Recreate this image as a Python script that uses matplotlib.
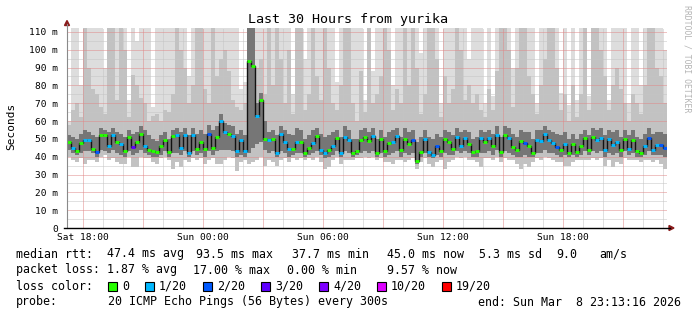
import numpy as np
import matplotlib
matplotlib.use("Agg")
import matplotlib.pyplot as plt
from matplotlib.patches import Rectangle, Polygon
from matplotlib.lines import Line2D

plt.rcParams['font.family'] = ['DejaVu Sans Mono']

# ---------------- data (150 steps of 12 minutes, last 30 hours) ----------------
med = [48, 45, 43, 47.5, 49.5, 49.5, 44.5, 42.5, 52, 52,
       46, 52, 48, 47, 43, 51, 45.5, 48, 53, 46,
       44, 43, 42.5, 46, 49.5,
       42.5, 51.5, 52, 45, 52, 42, 52, 44.5, 48.5, 44.5,
       53, 45, 51, 60, 54, 53, 51.5, 43, 49.5, 43,
       93.5, 91, 63, 72, 50,
       49.5, 50, 42, 52.5, 48, 44.5, 44.5, 48.5, 48.5, 42,
       45, 47.5, 51.5, 44, 42, 44, 46, 50.5, 42, 51,
       49.5, 42, 43, 49.5, 51,
       49, 51.5, 42, 50, 43, 47.5, 48.5, 51.5, 43.5, 50,
       47, 49.5, 37.7, 42.5, 50, 42.5, 41, 46, 43, 50,
       48, 44.5, 51, 46, 50.5,
       47, 42.5, 43, 50.5, 48.5, 50.5, 46, 52, 42.5, 52,
       50.5, 45.5, 43.5, 49, 47.5, 46, 42, 49.5, 49, 52.5,
       49.5, 47.5, 45.3, 43.5, 47,
       42, 47, 42.5, 46, 50.5, 44, 51, 49.5, 50.5, 44,
       50, 46.5, 48.5, 43.5, 50, 44.5, 49.5, 43, 42, 46,
       50.5, 44, 46.5, 46.5, 45]

loss = [0, 1, 0, 0, 1, 1, 0, 2, 0, 0,
        1, 1, 0, 1, 0, 0, 3, 0, 0, 1,
        0, 0, 0, 0, 0,
        0, 0, 1, 1, 1, 1, 1, 0, 0, 0,
        2, 0, 0, 1, 1, 0, 1, 1, 1, 1,
        0, 0, 1, 0, 0,
        1, 0, 1, 1, 1, 1, 0, 1, 0, 0,
        0, 1, 0, 1, 1, 0, 1, 0, 1, 1,
        1, 0, 0, 0, 0,
        0, 1, 0, 0, 0, 0, 1, 1, 0, 0,
        0, 2, 0, 0, 1, 1, 1, 2, 0, 0,
        0, 0, 1, 1, 1,
        0, 0, 0, 1, 0, 1, 0, 1, 0, 0,
        1, 0, 0, 0, 2, 0, 0, 1, 1, 1,
        1, 1, 2, 0, 1,
        0, 0, 0, 0, 0, 0, 0, 1, 1, 1,
        1, 1, 1, 0, 0, 1, 0, 0, 0, 1,
        2, 1, 1, 2, 2]

lo = [40, 38, 37, 39, 36, 38, 38, 37, 40, 41,
      38, 39, 37, 36, 36, 40, 34, 34, 40, 39,
      39, 37, 36, 39, 40,
      38, 33, 37, 34, 38, 37, 39, 38, 39, 36,
      38, 39, 36, 36, 38, 40, 39, 32, 37, 38,
      36, 37, 38, 40, 35,
      38, 37, 35, 38, 39, 37, 39, 38, 39, 38,
      39, 38, 40, 37, 33, 34, 38, 40, 36, 38,
      38, 38, 39, 39, 40,
      39, 40, 38, 39, 37, 37, 36, 38, 38, 37,
      38, 39, 33, 37, 39, 36, 34, 37, 38, 33,
      37, 38, 40, 39, 40,
      38, 38, 37, 34, 39, 39, 38, 40, 37, 39,
      38, 38, 36, 33, 36, 34, 37, 39, 38, 40,
      39, 38, 37, 37, 35,
      35, 37, 38, 38, 38, 38, 39, 38, 39, 35,
      38, 34, 37, 36, 39, 38, 38, 38, 37, 38,
      38, 37, 38, 36, 33]

core_lo = [44, 42, 41, 42, 43, 43, 42, 40, 44, 43,
           42, 44, 42, 41, 40, 43, 41, 42, 44, 42,
           41, 40, 40, 41, 43,
           40, 42, 42, 41, 43, 40, 43, 41, 42, 40,
           43, 41, 43, 44, 44, 44, 43, 40, 41, 40,
           42, 45, 47, 48, 44,
           42, 43, 40, 43, 42, 40, 41, 42, 42, 40,
           41, 42, 43, 41, 39, 40, 41, 43, 40, 43,
           42, 40, 41, 42, 43,
           42, 43, 40, 42, 40, 41, 42, 43, 40, 42,
           41, 42, 36, 40, 42, 40, 39, 41, 40, 42,
           41, 41, 43, 42, 43,
           42, 40, 40, 42, 42, 43, 41, 44, 40, 43,
           42, 41, 40, 40, 41, 40, 40, 42, 42, 44,
           42, 42, 41, 40, 41,
           40, 41, 40, 41, 43, 41, 43, 42, 43, 40,
           42, 41, 42, 40, 43, 41, 42, 40, 40, 41,
           43, 41, 41, 41, 40]

core_hi = [52, 51, 50, 53, 55, 54, 52, 51, 56, 55,
           54, 56, 54, 53, 51, 55, 53, 54, 57, 55,
           52, 50, 49, 52, 54,
           50, 55, 56, 54, 56, 52, 56, 53, 55, 53,
           58, 55, 57, 64, 59, 58, 57, 53, 55, 52,
           120, 120, 70, 76, 60,
           54, 55, 52, 57, 55, 53, 52, 56, 55, 50,
           52, 55, 56, 53, 51, 52, 54, 55, 51, 57,
           55, 50, 50, 55, 56,
           54, 56, 50, 55, 51, 54, 55, 56, 51, 56,
           54, 55, 48, 51, 55, 51, 50, 53, 51, 55,
           54, 52, 56, 54, 55,
           54, 50, 51, 55, 54, 55, 53, 57, 51, 57,
           56, 53, 51, 55, 54, 54, 50, 55, 55, 57,
           55, 54, 53, 52, 54,
           50, 53, 50, 53, 55, 52, 56, 55, 56, 52,
           55, 54, 55, 51, 55, 52, 55, 51, 50, 53,
           56, 53, 54, 54, 53]

mid = [58, 66, 70, 62, 120, 90, 78, 75, 68, 64,
       120, 120, 72, 120, 100, 62, 86, 80, 73, 70,
       60, 63, 64, 60, 66,
       65, 75, 120, 100, 90, 70, 80, 120, 120, 78,
       70, 120, 85, 95, 100, 88, 72, 68, 66, 70,
       120, 120, 90, 95, 75,
       120, 80, 120, 95, 70, 100, 64, 120, 120, 66,
       75, 120, 85, 72, 120, 90, 70, 66, 80, 120,
       120, 70, 60, 88, 65,
       120, 70, 75, 85, 120, 100, 66, 78, 70, 120,
       80, 120, 90, 64, 75, 120, 120, 95, 62, 85,
       70, 78, 120, 100, 72,
       80, 70, 75, 66, 62, 78, 66, 88, 120, 120,
       100, 68, 90, 120, 120, 85, 75, 64, 80, 95,
       120, 120, 90, 66, 75,
       60, 80, 62, 75, 120, 66, 120, 120, 100, 85,
       66, 80, 90, 78, 70, 60, 75, 70, 64, 80,
       120, 120, 90, 85, 70]

hi = [60, 120, 120, 80, 120, 120, 120, 120, 120, 90,
      120, 120, 120, 120, 120, 72, 120, 105, 120, 120,
      120, 68, 120, 120, 120,
      120, 120, 120, 120, 120, 85, 120, 120, 120, 120,
      120, 120, 120, 120, 120, 120, 120, 120, 78, 82,
      120, 120, 120, 120, 120,
      120, 120, 120, 120, 120, 120, 75, 120, 120, 95,
      120, 120, 120, 120, 120, 120, 120, 82, 120, 120,
      120, 120, 120, 120, 72,
      120, 88, 120, 120, 120, 120, 80, 120, 120, 120,
      120, 120, 120, 98, 120, 120, 120, 120, 70, 120,
      120, 120, 120, 120, 120,
      95, 120, 120, 120, 70, 120, 74, 120, 120, 120,
      120, 90, 120, 120, 120, 120, 120, 70, 120, 120,
      120, 120, 120, 76, 120,
      69, 120, 72, 120, 120, 74, 120, 120, 120, 120,
      72, 120, 120, 120, 120, 70, 120, 120, 80, 120,
      120, 120, 120, 120, 100]

loss_levels = [0, 1, 2, 3, 4, 10, 19]
loss_labels = ['0', '1/20', '2/20', '3/20', '4/20', '10/20', '19/20']
loss_colors = ['#26ff00', '#00b8ff', '#0059ff', '#5e00ff', '#7e00ff', '#dd00ff', '#ff0000']

tick_hours = [0.7789, 6.7789, 12.7789, 18.7789, 24.7789]
tick_labels = ['Sat 18:00', 'Sun 00:00', 'Sun 06:00', 'Sun 12:00', 'Sun 18:00']
y_ticks = [0, 10, 20, 30, 40, 50, 60, 70, 80, 90, 100, 110]
y_labels = ['0'] + ['%d m' % v for v in y_ticks[1:]]

title = 'Last 30 Hours from yurika'
legend_rows = [
    [('median rtt:', 16), ('47.4 ms avg', 107), ('93.5 ms max', 196), ('37.7 ms min', 292),
     ('45.0 ms now', 387), ('5.3 ms sd', 479), ('9.0', 556), ('am/s', 599)],
    [('packet loss:', 16), ('1.87 % avg', 107), ('17.00 % max', 193), ('0.00 % min', 287),
     ('9.57 % now', 387)],
]
probe_text = '20 ICMP Echo Pings (56 Bytes) every 300s'
end_text = 'end: Sun Mar  8 23:13:16 2026'

# ---------------- figure ----------------
W, H = 697, 310
fig = plt.figure(figsize=(W / 100, H / 100), dpi=100)
fig.patch.set_facecolor('white')

def fx(p):
    return p / W

def fy(p):
    return 1 - p / H

L, R, T, B = 67, 667, 28, 228
ax = fig.add_axes([fx(L), fy(B), (R - L) / W, (B - T) / H])
ax.set_facecolor('white')
ax.set_xlim(0, 30)
ax.set_ylim(0, 112.2)
for s in ax.spines.values():
    s.set_visible(False)

n = len(med)
step = 30.0 / n
edges = np.arange(n + 1) * step
xs = edges[:-1]
med_a = np.array(med, float)
lo_a = np.array(lo, float)
hi_a = np.array(hi, float)
mid_a = np.array(mid, float)
clo_a = np.array(core_lo, float)
chi_a = np.array(core_hi, float)

# smoke
ax.bar(xs, hi_a - lo_a, bottom=lo_a, width=step, align='edge', color='#dddddd', linewidth=0, zorder=1)
ax.bar(xs, mid_a - lo_a, bottom=lo_a, width=step, align='edge', color='#c2c2c2', linewidth=0, zorder=1.1)
ax.bar(xs, chi_a - clo_a, bottom=clo_a, width=step, align='edge', color='#767676', linewidth=0, zorder=1.8)

# grid
dot = (0, (1, 1))
for v in range(5, 111, 10):
    ax.axhline(v, color='#c4c4c4', lw=0.72, ls=dot, zorder=1.5)
for v in range(10, 111, 10):
    ax.axhline(v, color='#e08888', lw=0.72, ls=dot, zorder=1.6)
for k in range(0, 30):
    h = tick_hours[0] + k
    if h > 30:
        break
    if k % 3 == 0:
        ax.axvline(h, color='#e08888', lw=0.72, ls=dot, zorder=1.6)
    else:
        ax.axvline(h, color='#c4c4c4', lw=0.72, ls=dot, zorder=1.5)

# median line
ax.stairs(med_a, edges, baseline=None, color='#121212', lw=1.0, zorder=2)
cols = []
for v in loss:
    idx = max(i for i, lv in enumerate(loss_levels) if lv <= v)
    cols.append(loss_colors[idx])
ax.hlines(med_a, xs, xs + step, colors=cols, lw=2.1, zorder=3, capstyle='butt')

# ticks
ax.set_yticks(y_ticks)
ax.set_yticklabels(y_labels)
ax.set_xticks(tick_hours)
ax.set_xticklabels(tick_labels)
ax.tick_params(axis='y', length=0, pad=6.5, labelsize=6.8)
ax.tick_params(axis='x', length=0, pad=3.8, labelsize=6.8)

# axes lines and arrows
fig.add_artist(Line2D([fx(67), fx(67)], [fy(228), fy(24)], color='#8a8a8a', lw=0.8))
fig.add_artist(Line2D([fx(64), fx(670)], [fy(228), fy(228)], color='#000000', lw=1.0))
fig.add_artist(Polygon([[fx(64.5), fy(25.5)], [fx(69.5), fy(25.5)], [fx(67), fy(20.5)]],
                       closed=True, color='#8b1c1c', transform=fig.transFigure))
fig.add_artist(Polygon([[fx(669), fy(225.5)], [fx(669), fy(230.5)], [fx(674), fy(228)]],
                       closed=True, color='#8b1c1c', transform=fig.transFigure))

# texts
fig.text(fx(348.5), fy(19), title, ha='center', va='center', fontsize=9.6)
fig.text(fx(11), fy(126.5), 'Seconds', rotation=90, ha='center', va='center', fontsize=8.0)
fig.text(fx(687), fy(59), 'RRDTOOL / TOBI OETIKER', rotation=270, ha='center', va='center',
         fontsize=5.9, color='#b4b4b4')

leg_fs = 8.37
row_y = [254, 270, 286, 302]
for r, items in enumerate(legend_rows):
    for txt, px in items:
        fig.text(fx(px), fy(row_y[r]), txt, ha='left', va='center', fontsize=leg_fs)

fig.text(fx(16), fy(row_y[2]), 'loss color:', ha='left', va='center', fontsize=leg_fs)
bx = 108
for lab, col in zip(loss_labels, loss_colors):
    fig.add_artist(Rectangle((fx(bx), fy(row_y[2] + 4.5)), 9 / W, 9 / H, facecolor=col,
                             edgecolor='black', lw=0.8, transform=fig.transFigure))
    fig.text(fx(bx + 14), fy(row_y[2]), lab, ha='left', va='center', fontsize=leg_fs)
    bx = bx + 14 + 7 * len(lab) + 16

fig.text(fx(16), fy(row_y[3]), 'probe:', ha='left', va='center', fontsize=leg_fs)
fig.text(fx(108), fy(row_y[3]), probe_text, ha='left', va='center', fontsize=leg_fs)
fig.text(fx(681), fy(row_y[3]), end_text, ha='right', va='center', fontsize=leg_fs)

fig.savefig('out.png', dpi=100, facecolor='white')
